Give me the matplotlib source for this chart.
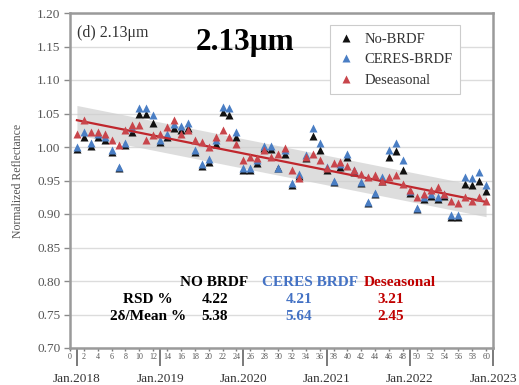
import matplotlib
matplotlib.use("Agg")
import matplotlib.pyplot as plt
import numpy as np

# Monthly index (Jan.2018 = 1 ... Dec.2022 = 60)
months = list(range(1, 61))

no_brdf = [0.997, 1.015, 1.002, 1.015, 1.010, 0.993, 0.968, 1.003, 1.022, 1.050,
           1.050, 1.036, 1.008, 1.015, 1.028, 1.025, 1.028, 0.993, 0.972, 0.978,
           1.005, 1.052, 1.048, 1.015, 0.966, 0.966, 0.976, 0.998, 0.997, 0.968,
           0.990, 0.944, 0.957, 0.984, 1.016, 0.995, 0.966, 0.948, 0.970, 0.985,
           0.962, 0.946, 0.916, 0.930, 0.950, 0.985, 0.994, 0.966, 0.932, 0.907,
           0.922, 0.927, 0.922, 0.927, 0.896, 0.896, 0.945, 0.944, 0.950, 0.935]

ceres_brdf = [1.000, 1.022, 1.006, 1.020, 1.015, 0.995, 0.970, 1.006, 1.028, 1.058,
              1.058, 1.048, 1.010, 1.020, 1.035, 1.032, 1.036, 0.995, 0.974, 0.982,
              1.010, 1.060, 1.058, 1.022, 0.968, 0.968, 0.980, 1.002, 1.002, 0.968,
              0.995, 0.946, 0.960, 0.988, 1.028, 1.006, 0.970, 0.950, 0.975, 0.990,
              0.965, 0.948, 0.918, 0.932, 0.955, 0.996, 1.006, 0.980, 0.935, 0.909,
              0.925, 0.930, 0.925, 0.930, 0.898, 0.898, 0.955, 0.953, 0.962, 0.943]

deseasonal = [1.020, 1.040, 1.022, 1.022, 1.020, 1.010, 1.003, 1.025, 1.033, 1.033,
              1.010, 1.018, 1.020, 1.030, 1.040, 1.020, 1.025, 1.010, 1.007, 1.000,
              1.015, 1.025, 1.015, 1.005, 0.980, 0.985, 0.983, 0.995, 0.985, 0.990,
              0.998, 0.966, 0.953, 0.985, 0.990, 0.980, 0.968, 0.976, 0.977, 0.972,
              0.966, 0.960, 0.955, 0.958, 0.950, 0.955, 0.958, 0.945, 0.936, 0.925,
              0.930, 0.936, 0.940, 0.930, 0.920, 0.916, 0.925, 0.920, 0.925, 0.920]

# Linear trend of the deseasonalised series and its 2-sigma envelope
trend_start, trend_end = 1.040, 0.918
band_half = 0.022

year_pos = [1, 13, 25, 37, 49, 61]
year_labels = ["Jan.2018", "Jan.2019", "Jan.2020", "Jan.2021", "Jan.2022", "Jan.2023"]
month_ticks = list(range(0, 61, 2))

stat_cols = ["NO BRDF", "CERES BRDF", "Deseasonal"]
stat_rows = ["RSD %", "2\u03b4/Mean %"]
rsd = [4.22, 4.21, 3.21]
two_delta = [5.38, 5.64, 2.45]

c_black = "#111111"
c_blue = "#4a7ec4"
c_red = "#c8454b"
col_text = ["#000000", "#4472c4", "#c00000"]

plt.rcParams["font.family"] = ["Liberation Serif", "DejaVu Serif"]
plt.rcParams["mathtext.fontset"] = "stix"

fig = plt.figure(figsize=(5.19, 3.85), dpi=100)
ax = fig.add_axes([70 / 519, 1 - 348 / 385, 423 / 519, 335 / 385])

ax.set_xlim(0, 61)
ax.set_ylim(0.70, 1.20)

# grid
ax.set_yticks(np.arange(0.70, 1.2001, 0.05))
ax.yaxis.grid(True, color="#dcdcdc", lw=1.0)
ax.set_axisbelow(True)

# trend envelope and line
tx = np.array([months[0], months[-1]])
ty = np.array([trend_start, trend_end])
ax.fill_between(tx, ty - band_half, ty + band_half, color="#cfcfcf", alpha=0.7, lw=0, zorder=1)
ax.plot(tx, ty, color="#c0262c", lw=1.6, zorder=4)

ms = 6.4
ax.plot(months, no_brdf, "^", color=c_black, ms=ms, mec="none", label="No-BRDF", zorder=3)
ax.plot(months, ceres_brdf, "^", color=c_blue, ms=ms, mec="none", label="CERES-BRDF", zorder=3)
ax.plot(months, deseasonal, "^", color=c_red, ms=ms, mec="none", label="Deseasonal", zorder=5)

# axes styling
for s in ax.spines.values():
    s.set_color("#9a9a9a")
    s.set_linewidth(1.8)

ax.set_yticklabels([f"{v:.2f}" for v in np.arange(0.70, 1.2001, 0.05)])
ax.tick_params(axis="y", direction="out", length=4, width=1, color="#8a8a8a",
               labelsize=9.5, labelcolor="#555555", pad=3)

ax.set_xticks(year_pos)
ax.set_xticklabels(year_labels)
ax.set_xticks(month_ticks, minor=True)
ax.set_xticklabels([str(m) for m in month_ticks], minor=True)
ax.tick_params(axis="x", which="major", direction="out", length=13, width=1.4,
               color="#7a7a7a", labelsize=9.5, labelcolor="#333333", pad=5)
ax.tick_params(axis="x", which="minor", direction="out", length=2, width=1,
               color="#7a7a7a", labelsize=5.8, labelcolor="#555555", pad=1.5)

ax.set_ylabel("Normalized Reflectance", fontsize=8.5, color="#555555", labelpad=9)

# panel titles
ax.text(1.0, 1.170, "(d) 2.13\u03bcm", fontsize=11.5, color="#333333", va="center", ha="left")
ax.text(25.3, 1.156, "2.13\u03bcm", fontsize=22.5, fontweight="bold", va="center", ha="center")

leg = ax.legend(loc="upper right", bbox_to_anchor=(0.94, 0.985), fontsize=10.5,
                frameon=True, fancybox=False, edgecolor="#cccccc", framealpha=1,
                handlelength=1.2, handletextpad=0.7, labelspacing=0.5, borderpad=0.5)
leg.get_frame().set_linewidth(0.8)
for t in leg.get_texts():
    t.set_color("#333333")

# statistics table
col_x = [20.8, 34.6, 47.6]
row_y = [0.7985, 0.7725, 0.7475]
lab_x = 11.2
for cx, name, c in zip(col_x, stat_cols, col_text):
    ax.text(cx, row_y[0], name, fontsize=11, fontweight="bold", color=c, ha="center", va="center")
for ry, rname in zip(row_y[1:], stat_rows):
    ax.text(lab_x, ry, rname, fontsize=11, fontweight="bold", color="black", ha="center", va="center")
for cx, c, v1, v2 in zip([20.9, 33.0, 46.3], col_text, rsd, two_delta):
    ax.text(cx, row_y[1], f"{v1:.2f}", fontsize=11, fontweight="bold", color=c, ha="center", va="center")
    ax.text(cx, row_y[2], f"{v2:.2f}", fontsize=11, fontweight="bold", color=c, ha="center", va="center")

fig.savefig("out.png", dpi=100)
